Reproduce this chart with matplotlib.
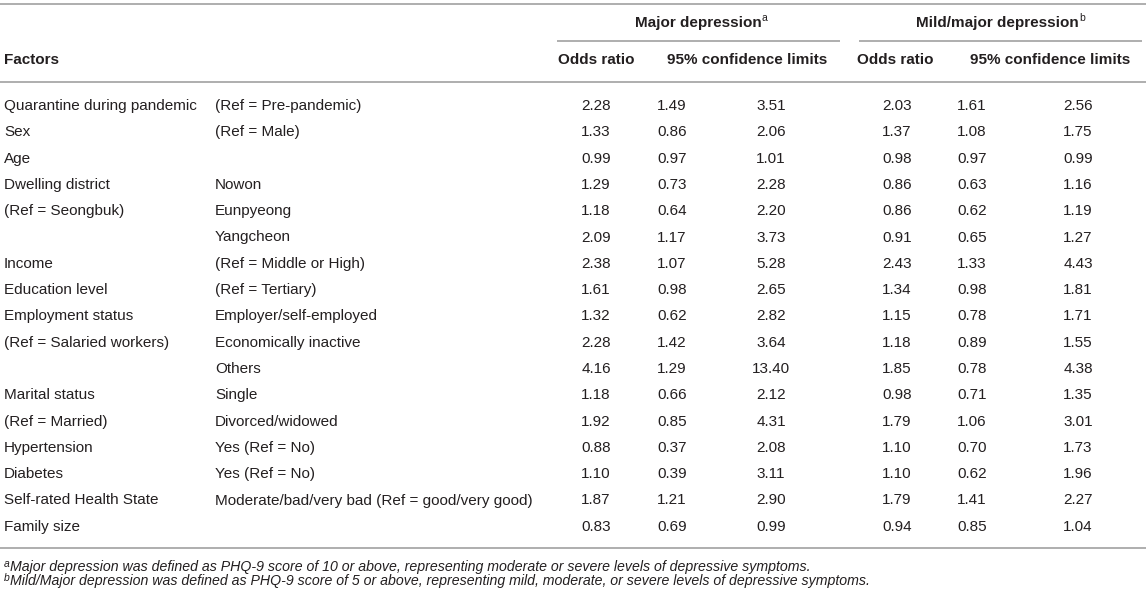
import matplotlib
matplotlib.use("Agg")
import matplotlib.pyplot as plt

plt.rcParams['font.family'] = ['Liberation Sans', 'DejaVu Sans']

# Table content
factors = ["Quarantine during pandemic", "Sex", "Age", "Dwelling district",
           "(Ref = Seongbuk)", "", "Income", "Education level",
           "Employment status", "(Ref = Salaried workers)", "",
           "Marital status", "(Ref = Married)", "Hypertension", "Diabetes",
           "Self-rated Health State", "Family size"]
levels = ["(Ref = Pre-pandemic)", "(Ref = Male)", "", "Nowon", "Eunpyeong",
          "Yangcheon", "(Ref = Middle or High)", "(Ref = Tertiary)",
          "Employer/self-employed", "Economically inactive", "Others",
          "Single", "Divorced/widowed", "Yes (Ref = No)", "Yes (Ref = No)",
          "Moderate/bad/very bad (Ref = good/very good)", ""]

major_or = [2.28, 1.33, 0.99, 1.29, 1.18, 2.09, 2.38, 1.61, 1.32, 2.28, 4.16,
            1.18, 1.92, 0.88, 1.10, 1.87, 0.83]
major_lo = [1.49, 0.86, 0.97, 0.73, 0.64, 1.17, 1.07, 0.98, 0.62, 1.42, 1.29,
            0.66, 0.85, 0.37, 0.39, 1.21, 0.69]
major_hi = [3.51, 2.06, 1.01, 2.28, 2.20, 3.73, 5.28, 2.65, 2.82, 3.64, 13.40,
            2.12, 4.31, 2.08, 3.11, 2.90, 0.99]
mild_or = [2.03, 1.37, 0.98, 0.86, 0.86, 0.91, 2.43, 1.34, 1.15, 1.18, 1.85,
           0.98, 1.79, 1.10, 1.10, 1.79, 0.94]
mild_lo = [1.61, 1.08, 0.97, 0.63, 0.62, 0.65, 1.33, 0.98, 0.78, 0.89, 0.78,
           0.71, 1.06, 0.70, 0.62, 1.41, 0.85]
mild_hi = [2.56, 1.75, 0.99, 1.16, 1.19, 1.27, 4.43, 1.81, 1.71, 1.55, 4.38,
           1.35, 3.01, 1.73, 1.96, 2.27, 1.04]

groups = ["Major depression", "Mild/major depression"]
group_marks = ["a", "b"]
sub_headers = ["Odds ratio", "95% confidence limits"]
footnotes = [
    "Major depression was defined as PHQ-9 score of 10 or above, representing moderate or severe levels of depressive symptoms.",
    "Mild/Major depression was defined as PHQ-9 score of 5 or above, representing mild, moderate, or severe levels of depressive symptoms.",
]

TXT = "#231f20"
LINE = "#a8a8a8"
FS = 11

fig = plt.figure(figsize=(11.46, 5.98), dpi=100)
ax = fig.add_axes([0, 0, 1, 1])
ax.set_xlim(0, 1146)
ax.set_ylim(598, 0)
ax.axis("off")
renderer = fig.canvas.get_renderer()


def hline(y, x0=0, x1=1146):
    ax.plot([x0, x1], [y, y], color=LINE, lw=1.3, solid_capstyle="butt")


def text_with_sup(x, y, s, sup, ha="center", **kw):
    t = ax.text(x, y, s, ha=ha, va="center", color=TXT, **kw)
    bb = t.get_window_extent(renderer).transformed(ax.transData.inverted())
    ax.text(max(bb.x0, bb.x1) + 0.5, y - 5, sup, ha="left", va="center",
            color=TXT, fontsize=7.5)


# rules
hline(4)
hline(41, 557, 840)
hline(41, 859, 1142)
hline(82)
hline(548)

# headers
text_with_sup(698, 23, groups[0], group_marks[0], fontsize=FS, fontweight="bold")
text_with_sup(997, 23, groups[1], group_marks[1], fontsize=FS, fontweight="bold")
ax.text(4, 60, "Factors", ha="left", va="center", color=TXT, fontsize=FS,
        fontweight="bold")
for xc, s in zip([596, 747, 895, 1050], sub_headers * 2):
    ax.text(xc, 60, s, ha="center", va="center", color=TXT, fontsize=FS,
            fontweight="bold")

# body
row_y0, row_h = 106, 26.3
cols = [(596, major_or), (672, major_lo), (771, major_hi),
        (897, mild_or), (972, mild_lo), (1078, mild_hi)]
for i in range(len(factors)):
    y = row_y0 + i * row_h
    ax.text(4, y, factors[i], ha="left", va="center", color=TXT, fontsize=FS)
    ax.text(215, y, levels[i], ha="left", va="center", color=TXT, fontsize=FS)
    for xc, vals in cols:
        ax.text(xc, y, f"{vals[i]:.2f}", ha="center", va="center", color=TXT,
                fontsize=FS)

# footnotes
for j, (mark, note) in enumerate(zip(group_marks, footnotes)):
    y = 567 + j * 14
    ax.text(4, y - 3, mark, ha="left", va="center", color=TXT, fontsize=7.5,
            fontstyle="italic")
    ax.text(10, y, note, ha="left", va="center", color=TXT, fontsize=10.2,
            fontstyle="italic")

fig.savefig("out.png", dpi=100)
